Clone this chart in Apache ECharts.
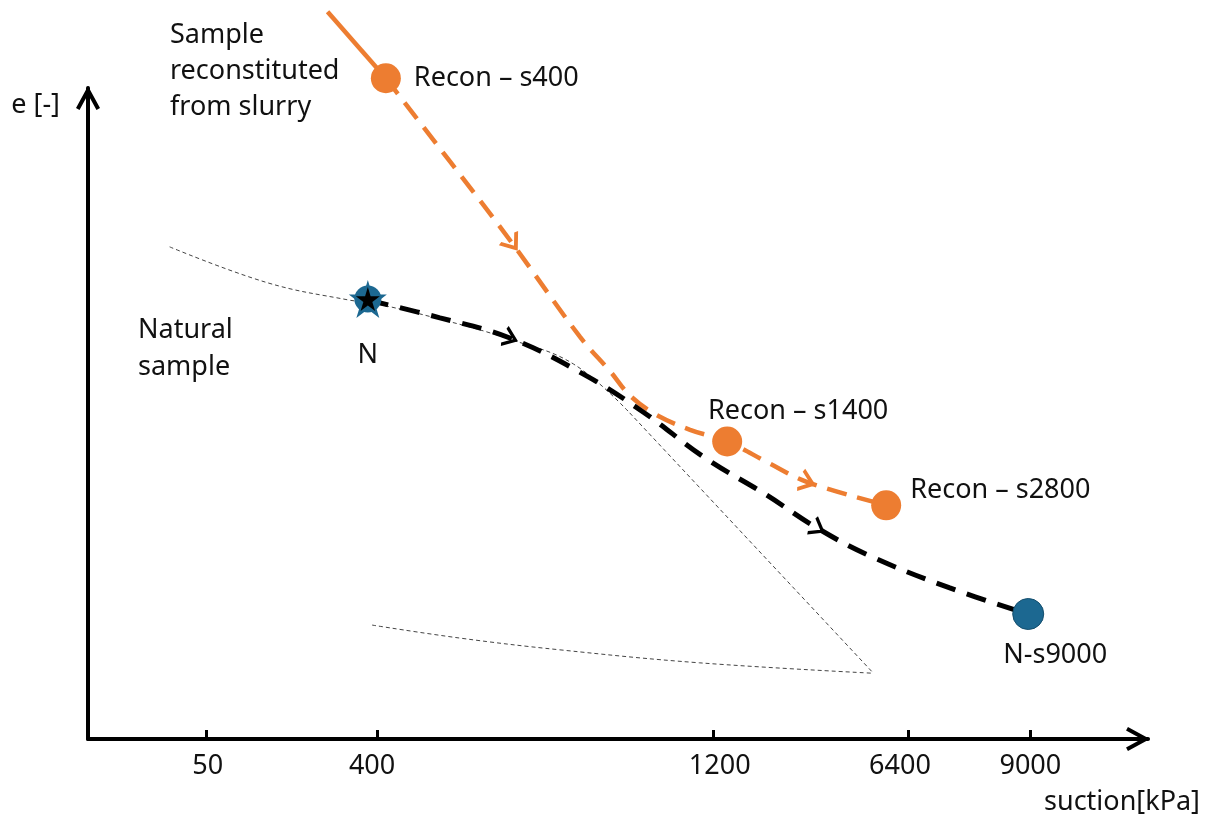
<!DOCTYPE html>
<html><head><meta charset="utf-8">
<script src="https://cdn.jsdelivr.net/npm/echarts@6/dist/echarts.min.js"></script>
<style>html,body{margin:0;padding:0;background:#fff}#c{width:1212px;height:818px}</style>
</head><body><div id="c"></div>
<script>
// schematic axes: x and y in relative units 0..100
const xTickValues = [11.2, 27.3, 59.0, 77.4, 88.9];
const xLabelValues = [11.3, 26.8, 59.6, 76.6, 88.9];
const xTickLabels = ['50', '400', '1200', '6400', '9000'];

const reconLead = [[22.6, 111.7], [28.1, 101.5]];
const reconPath = [[28.1, 101.5], [34.2, 88.6], [40.0, 76.2], [46.4, 61.8], [49.3, 56.4], [51.1, 52.8], [53.5, 49.9], [56.8, 47.5], [60.3, 45.7], [64.1, 42.5], [67.8, 39.5], [75.3, 35.9]];
const reconArrowIdx = [2, 10];
const reconPoints = [[28.1, 101.5], [60.3, 45.7], [75.3, 35.9]];
const reconNames = ['Recon – s400', 'Recon – s1400', 'Recon – s2800'];

const naturalPath = [[26.5, 67.4], [33.2, 64.7], [39.8, 61.6], [46.9, 55.9], [52.4, 50.2], [58.2, 43.2], [63.9, 37.6], [68.8, 32.4], [73.8, 28.1], [81.3, 23.2], [88.7, 19.2]];
const naturalArrowIdx = [2, 7];
const naturalStart = [26.4, 67.6];
const naturalEnd = [88.7, 19.2];
const naturalNames = ['N', 'N-s9000'];

const boundaryCurve = [[7.7, 75.6], [16.9, 70.1], [24.7, 67.4], [26.5, 67.1], [33.2, 64.5], [39.8, 61.4], [45.8, 57.6], [51.1, 50.1]];
const boundaryLine = [[51.1, 50.1], [74.1, 10.1]];
const lowerCurve = [[26.8, 17.5], [35.1, 15.5], [44.5, 13.7], [57.7, 11.7], [74.1, 10.1]];

const ORANGE = '#ED7D31';
const BLUE = '#1C6891';
const FONT = 'Noto Sans';
const FS = 27;

const axisArrow = 'path://M12,0 L24,22 L20.49,23.92 L12,8.36 L3.51,23.92 L0,22 Z';
const chevron = 'path://M0,10 L8,0 L16,10';
const star = 'path://M50,0 L61,35 L98,35 L68,57 L79,91 L50,70 L21,91 L32,57 L2,35 L39,35 Z';

const reconLabelStyles = [
  {position: 'right', distance: 13, offset: [0, 0]},
  {position: 'top', distance: 2, offset: [71, 0]},
  {position: 'right', distance: 9, offset: [0, -15]}
];

const thin = {color: '#444', width: 1, type: [4, 3]};
const txt = {fontFamily: FONT, fontSize: FS, color: '#111'};

const option = {
  animation: false,
  backgroundColor: '#fff',
  textStyle: {fontFamily: FONT},
  grid: {left: 88, right: 64, top: 88, bottom: 79},
  xAxis: {
    type: 'value', min: 0, max: 100,
    name: 'suction[kPa]', nameLocation: 'end', nameGap: 52,
    nameTextStyle: Object.assign({align: 'right', verticalAlign: 'top', padding: [50, 0, 0, 0]}, txt),
    axisLine: {onZero: false, lineStyle: {color: '#000', width: 4}, symbol: ['none', axisArrow], symbolSize: [24, 24], symbolOffset: [0, -10]},
    axisTick: {show: true, inside: true, length: 9, lineStyle: {color: '#000', width: 3}, customValues: xTickValues},
    axisLabel: Object.assign({show: true, margin: 14, customValues: xLabelValues,
      formatter: v => { const i = xLabelValues.findIndex(t => Math.abs(t - v) < 1e-6); return i >= 0 ? xTickLabels[i] : ''; }}, txt),
    splitLine: {show: false}
  },
  yAxis: {
    type: 'value', min: 0, max: 100,
    name: 'e [-]', nameLocation: 'end', nameGap: -17,
    nameTextStyle: Object.assign({align: 'right', verticalAlign: 'middle', padding: [0, 28, 0, 0]}, txt),
    axisLine: {onZero: false, lineStyle: {color: '#000', width: 4}, symbol: ['none', axisArrow], symbolSize: [24, 24], symbolOffset: [0, -10]},
    axisTick: {show: false}, axisLabel: {show: false}, splitLine: {show: false}
  },
  graphic: [
    {type: 'text', left: 170, top: 17, style: {text: 'Sample\nreconstituted\nfrom slurry', fontFamily: FONT, fontSize: FS, lineHeight: 36, fill: '#111'}},
    {type: 'text', left: 138, top: 312, style: {text: 'Natural\nsample', fontFamily: FONT, fontSize: FS, lineHeight: 37, fill: '#111'}}
  ],
  series: [
    {type: 'line', data: boundaryCurve, smooth: 0.4, symbol: 'none', lineStyle: thin, clip: false, silent: true, z: 1},
    {type: 'line', data: boundaryLine, symbol: 'none', lineStyle: thin, clip: false, silent: true, z: 1},
    {type: 'line', data: lowerCurve, smooth: 0.4, symbol: 'none', lineStyle: thin, clip: false, silent: true, z: 1},
    {type: 'line', data: reconLead, symbol: 'none', lineStyle: {color: ORANGE, width: 4.5}, clip: false, silent: true, z: 2},
    {type: 'line', data: reconPath, smooth: 0.35, symbol: 'none', lineStyle: {color: ORANGE, width: 4.5, type: [20, 11]}, clip: false, silent: true, z: 2},
    {type: 'line', data: naturalPath, smooth: 0.4, symbol: 'none', lineStyle: {color: '#000', width: 5, type: [20, 12]}, clip: false, silent: true, z: 3},
    {id: 'reconArrows', type: 'scatter', data: [], symbol: chevron, symbolSize: [20, 13], itemStyle: {color: 'rgba(0,0,0,0)', borderColor: ORANGE, borderWidth: 3.5, opacity: 1}, clip: false, silent: true, z: 4},
    {id: 'naturalArrows', type: 'scatter', data: [], symbol: chevron, symbolSize: [18, 12], itemStyle: {color: 'rgba(0,0,0,0)', borderColor: '#000', borderWidth: 3, opacity: 1}, clip: false, silent: true, z: 4},
    {type: 'scatter', clip: false, silent: true, z: 5, symbol: 'circle', symbolSize: 30, itemStyle: {color: ORANGE, opacity: 1},
      data: reconPoints.map((p, i) => ({value: p, name: reconNames[i], label: reconLabelStyles[i]})),
      label: Object.assign({show: true, formatter: '{b}'}, txt)},
    {type: 'scatter', clip: false, silent: true, z: 5, symbol: star, symbolSize: 38, itemStyle: {color: BLUE, opacity: 1}, data: [naturalStart]},
    {type: 'scatter', clip: false, silent: true, z: 6, symbol: 'circle', symbolSize: 27, itemStyle: {color: BLUE, opacity: 1},
      data: [{value: naturalStart, name: naturalNames[0]}],
      label: Object.assign({show: true, formatter: '{b}', position: 'bottom', distance: 29}, txt)},
    {type: 'scatter', clip: false, silent: true, z: 7, symbol: star, symbolSize: 24, itemStyle: {color: '#000', opacity: 1}, data: [naturalStart]},
    {type: 'scatter', clip: false, silent: true, z: 5, symbol: 'circle', symbolSize: 31, itemStyle: {color: BLUE, borderColor: '#154F6E', borderWidth: 1, opacity: 1},
      data: [{value: naturalEnd, name: naturalNames[1]}],
      label: Object.assign({show: true, formatter: '{b}', position: 'bottom', distance: 12, offset: [27, 0]}, txt)}
  ]
};

const chart = echarts.init(document.getElementById('c'), null, {renderer: 'canvas'});
chart.setOption(option);

function arrowItems(path, idxs) {
  return idxs.map(i => {
    const a = chart.convertToPixel({gridIndex: 0}, path[i - 1]);
    const b = chart.convertToPixel({gridIndex: 0}, path[i + 1]);
    const ang = Math.atan2(-(b[1] - a[1]), b[0] - a[0]) * 180 / Math.PI - 90;
    return {value: path[i], symbolRotate: ang};
  });
}
chart.setOption({series: [
  {id: 'reconArrows', data: arrowItems(reconPath, reconArrowIdx)},
  {id: 'naturalArrows', data: arrowItems(naturalPath, naturalArrowIdx)}
]});
</script></body></html>
